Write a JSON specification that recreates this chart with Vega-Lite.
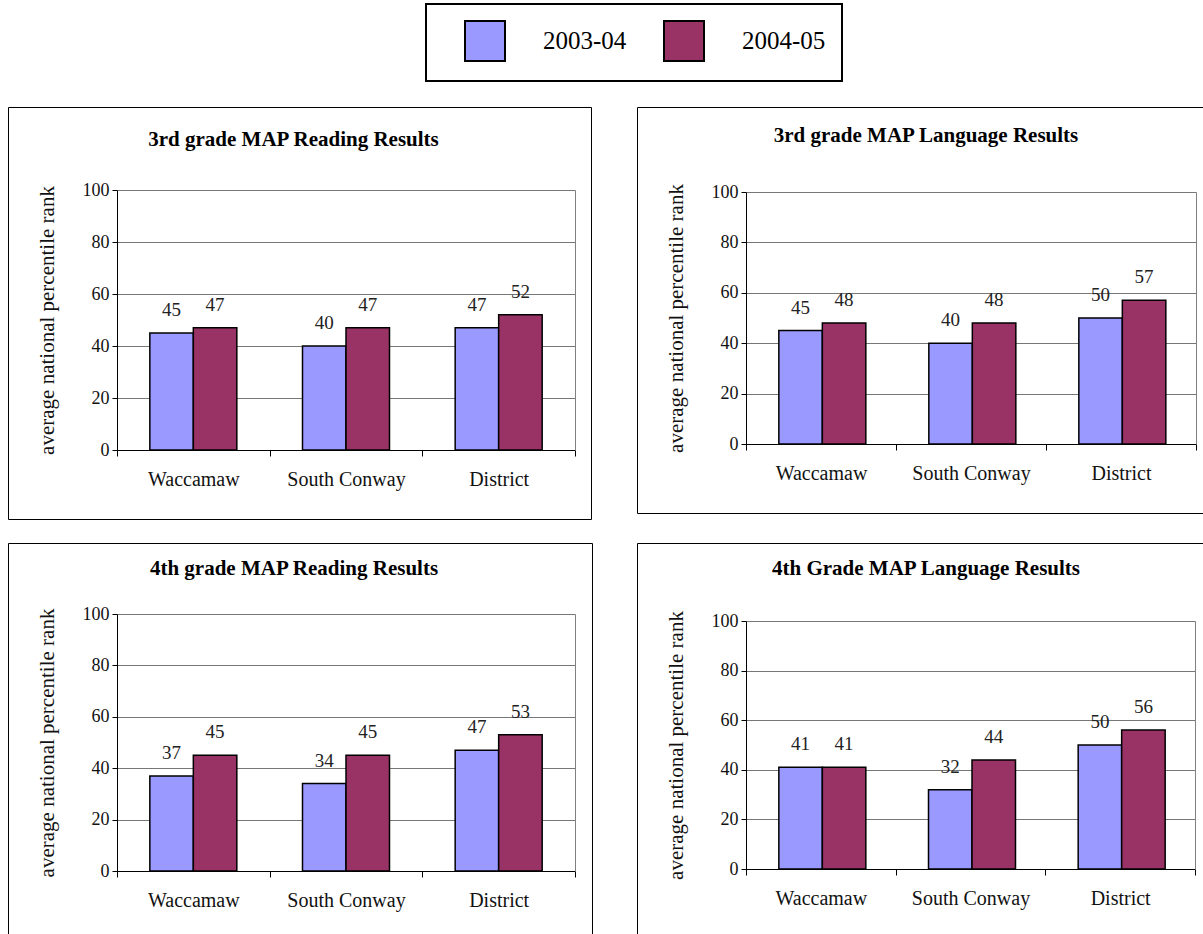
{
  "$schema": "https://vega.github.io/schema/vega-lite/v6.json",
  "padding": {"left": 7, "top": 3, "right": 0, "bottom": 0},
  "background": "white",
  "data": {"values": [
    {"panel": "r3", "school": "Waccamaw", "year": "2003-04", "value": 45},
    {"panel": "r3", "school": "Waccamaw", "year": "2004-05", "value": 47},
    {"panel": "r3", "school": "South Conway", "year": "2003-04", "value": 40},
    {"panel": "r3", "school": "South Conway", "year": "2004-05", "value": 47},
    {"panel": "r3", "school": "District", "year": "2003-04", "value": 47},
    {"panel": "r3", "school": "District", "year": "2004-05", "value": 52},
    {"panel": "l3", "school": "Waccamaw", "year": "2003-04", "value": 45},
    {"panel": "l3", "school": "Waccamaw", "year": "2004-05", "value": 48},
    {"panel": "l3", "school": "South Conway", "year": "2003-04", "value": 40},
    {"panel": "l3", "school": "South Conway", "year": "2004-05", "value": 48},
    {"panel": "l3", "school": "District", "year": "2003-04", "value": 50},
    {"panel": "l3", "school": "District", "year": "2004-05", "value": 57},
    {"panel": "r4", "school": "Waccamaw", "year": "2003-04", "value": 37},
    {"panel": "r4", "school": "Waccamaw", "year": "2004-05", "value": 45},
    {"panel": "r4", "school": "South Conway", "year": "2003-04", "value": 34},
    {"panel": "r4", "school": "South Conway", "year": "2004-05", "value": 45},
    {"panel": "r4", "school": "District", "year": "2003-04", "value": 47},
    {"panel": "r4", "school": "District", "year": "2004-05", "value": 53},
    {"panel": "l4", "school": "Waccamaw", "year": "2003-04", "value": 41},
    {"panel": "l4", "school": "Waccamaw", "year": "2004-05", "value": 41},
    {"panel": "l4", "school": "South Conway", "year": "2003-04", "value": 32},
    {"panel": "l4", "school": "South Conway", "year": "2004-05", "value": 44},
    {"panel": "l4", "school": "District", "year": "2003-04", "value": 50},
    {"panel": "l4", "school": "District", "year": "2004-05", "value": 56}
  ]},
  "spacing": 22,
  "vconcat": [
    {
      "spacing": 44,
      "hconcat": [
        {
          "width": 583, "height": 412,
          "title": {"text": "3rd grade MAP Reading Results", "offset": -43, "dx": -6},
          "transform": [{"filter": "datum.panel === 'r3'"}],
          "encoding": {
            "x": {"field": "school", "type": "nominal", "sort": ["Waccamaw", "South Conway", "District"],
                  "scale": {"range": [109, 567], "paddingInner": 0, "paddingOuter": 0},
                  "axis": {"title": null, "offset": -69, "tickBand": "extent", "tickSize": 6, "labelFontSize": 20, "labelPadding": 13, "labelAngle": 0, "grid": false}},
            "xOffset": {"field": "year", "type": "nominal", "scale": {"paddingInner": 0, "paddingOuter": 0.755}},
            "y": {"field": "value", "type": "quantitative",
                  "scale": {"domain": [0, 100], "range": [343, 83], "nice": false}}
          },
          "resolve": {"axis": {"y": "independent"}},
          "layer": [
            {"mark": {"type": "bar", "stroke": "black", "strokeWidth": 1.5},
             "encoding": {
               "y": {"field": "value", "type": "quantitative", "axis": {"title": "average national percentile rank", "values": [0, 20, 40, 60, 80, 100], "offset": -109, "grid": true, "tickSize": 5, "labelFontSize": 18, "labelPadding": 3, "titleFontSize": 21, "titleFontWeight": "normal", "titlePadding": 25}},
               "fill": {"field": "year", "type": "nominal", "scale": {"domain": ["2003-04", "2004-05"], "range": ["#9999FF", "#993366"]},
               "legend": {"orient": "none", "legendX": 418, "legendY": -103, "direction": "horizontal", "title": null, "symbolType": "square", "symbolSize": 1600, "symbolStrokeColor": "black", "symbolStrokeWidth": 2, "symbolOpacity": 1, "symbolOffset": 22, "labelFont": "Liberation Serif", "labelFontSize": 25, "labelColor": "black", "labelOffset": 37, "columnPadding": 14, "padding": 16, "strokeColor": "black", "encode": {"legend": {"update": {"strokeWidth": {"value": 2}}}}}}}},
            {"mark": {"type": "text", "baseline": "bottom", "dy": -13, "font": "Liberation Serif", "fontSize": 19, "color": "#222"},
             "encoding": {
               "y": {"field": "value", "type": "quantitative", "axis": {"orient": "right", "offset": -16, "title": null, "labels": false, "ticks": false, "grid": false, "domainColor": "#808080"}},
               "text": {"field": "value", "type": "quantitative"}}}
          ]
        },
        {
          "width": 568, "height": 406,
          "title": {"text": "3rd grade MAP Language Results", "offset": -39, "dx": 5},
          "transform": [{"filter": "datum.panel === 'l3'"}],
          "encoding": {
            "x": {"field": "school", "type": "nominal", "sort": ["Waccamaw", "South Conway", "District"],
                  "scale": {"range": [109, 559], "paddingInner": 0, "paddingOuter": 0},
                  "axis": {"title": null, "offset": -69, "tickBand": "extent", "tickSize": 6, "labelFontSize": 20, "labelPadding": 13, "labelAngle": 0, "grid": false}},
            "xOffset": {"field": "year", "type": "nominal", "scale": {"paddingInner": 0, "paddingOuter": 0.755}},
            "y": {"field": "value", "type": "quantitative",
                  "scale": {"domain": [0, 100], "range": [337, 85], "nice": false}}
          },
          "resolve": {"axis": {"y": "independent"}},
          "layer": [
            {"mark": {"type": "bar", "stroke": "black", "strokeWidth": 1.5},
             "encoding": {
               "y": {"field": "value", "type": "quantitative", "axis": {"title": "average national percentile rank", "values": [0, 20, 40, 60, 80, 100], "offset": -109, "grid": true, "tickSize": 5, "labelFontSize": 18, "labelPadding": 3, "titleFontSize": 21, "titleFontWeight": "normal", "titlePadding": 25}},
               "fill": {"field": "year", "type": "nominal"}}},
            {"mark": {"type": "text", "baseline": "bottom", "dy": -13, "font": "Liberation Serif", "fontSize": 19, "color": "#222"},
             "encoding": {
               "y": {"field": "value", "type": "quantitative", "axis": {"orient": "right", "offset": -9, "title": null, "labels": false, "ticks": false, "grid": false, "domainColor": "#808080"}},
               "text": {"field": "value", "type": "quantitative"}}}
          ]
        }
      ]
    },
    {
      "spacing": 43,
      "hconcat": [
        {
          "width": 584, "height": 392,
          "title": {"text": "4th grade MAP Reading Results", "offset": -36, "dx": -6},
          "transform": [{"filter": "datum.panel === 'r4'"}],
          "encoding": {
            "x": {"field": "school", "type": "nominal", "sort": ["Waccamaw", "South Conway", "District"],
                  "scale": {"range": [109, 567], "paddingInner": 0, "paddingOuter": 0},
                  "axis": {"title": null, "offset": -64, "tickBand": "extent", "tickSize": 6, "labelFontSize": 20, "labelPadding": 13, "labelAngle": 0, "grid": false}},
            "xOffset": {"field": "year", "type": "nominal", "scale": {"paddingInner": 0, "paddingOuter": 0.755}},
            "y": {"field": "value", "type": "quantitative",
                  "scale": {"domain": [0, 100], "range": [328, 71], "nice": false}}
          },
          "resolve": {"axis": {"y": "independent"}},
          "layer": [
            {"mark": {"type": "bar", "stroke": "black", "strokeWidth": 1.5},
             "encoding": {
               "y": {"field": "value", "type": "quantitative", "axis": {"title": "average national percentile rank", "values": [0, 20, 40, 60, 80, 100], "offset": -109, "grid": true, "tickSize": 5, "labelFontSize": 18, "labelPadding": 3, "titleFontSize": 21, "titleFontWeight": "normal", "titlePadding": 25}},
               "fill": {"field": "year", "type": "nominal"}}},
            {"mark": {"type": "text", "baseline": "bottom", "dy": -13, "font": "Liberation Serif", "fontSize": 19, "color": "#222"},
             "encoding": {
               "y": {"field": "value", "type": "quantitative", "axis": {"orient": "right", "offset": -17, "title": null, "labels": false, "ticks": false, "grid": false, "domainColor": "#808080"}},
               "text": {"field": "value", "type": "quantitative"}}}
          ]
        },
        {
          "width": 568, "height": 392,
          "title": {"text": "4th Grade MAP Language Results", "offset": -36, "dx": 5},
          "transform": [{"filter": "datum.panel === 'l4'"}],
          "encoding": {
            "x": {"field": "school", "type": "nominal", "sort": ["Waccamaw", "South Conway", "District"],
                  "scale": {"range": [109, 558], "paddingInner": 0, "paddingOuter": 0},
                  "axis": {"title": null, "offset": -66, "tickBand": "extent", "tickSize": 6, "labelFontSize": 20, "labelPadding": 13, "labelAngle": 0, "grid": false}},
            "xOffset": {"field": "year", "type": "nominal", "scale": {"paddingInner": 0, "paddingOuter": 0.755}},
            "y": {"field": "value", "type": "quantitative",
                  "scale": {"domain": [0, 100], "range": [326, 78], "nice": false}}
          },
          "resolve": {"axis": {"y": "independent"}},
          "layer": [
            {"mark": {"type": "bar", "stroke": "black", "strokeWidth": 1.5},
             "encoding": {
               "y": {"field": "value", "type": "quantitative", "axis": {"title": "average national percentile rank", "values": [0, 20, 40, 60, 80, 100], "offset": -109, "grid": true, "tickSize": 5, "labelFontSize": 18, "labelPadding": 3, "titleFontSize": 21, "titleFontWeight": "normal", "titlePadding": 25}},
               "fill": {"field": "year", "type": "nominal"}}},
            {"mark": {"type": "text", "baseline": "bottom", "dy": -13, "font": "Liberation Serif", "fontSize": 19, "color": "#222"},
             "encoding": {
               "y": {"field": "value", "type": "quantitative", "axis": {"orient": "right", "offset": -10, "title": null, "labels": false, "ticks": false, "grid": false, "domainColor": "#808080"}},
               "text": {"field": "value", "type": "quantitative"}}}
          ]
        }
      ]
    }
  ],
  "config": {
    "font": "Liberation Serif",
    "view": {"stroke": "black", "strokeWidth": 1},
    "axis": {"labelColor": "#111", "titleColor": "#111", "domainColor": "black", "tickColor": "black", "gridColor": "#777", "labelFont": "Liberation Serif", "titleFont": "Liberation Serif", "domainWidth": 1, "gridWidth": 1},
    "title": {"font": "Liberation Serif", "fontSize": 21, "fontWeight": "bold", "color": "black", "anchor": "middle", "frame": "group"}
  }
}
